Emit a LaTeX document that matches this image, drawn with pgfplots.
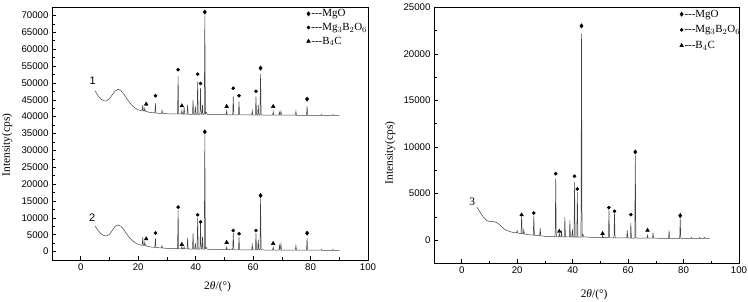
\documentclass[border=0pt]{standalone}
\usepackage{pgfplots}
\pgfplotsset{compat=1.18}
\usepackage{fontspec}
\setmainfont{Liberation Serif}
\setsansfont{Liberation Sans}
\pgfplotsset{
  xrd/.style={
    scale only axis,
    xmin=-10, xmax=100,
    xtick={0,20,...,100}, minor x tick num=1,
    tick align=inside, tick pos=left,
    major tick length=4bp, minor tick length=2.5bp,
    every tick/.style={black, line width=0.5pt},
    axis line style={line width=0.7pt},
    ticklabel style={font=\sffamily\fontsize{9.7}{11}\selectfont},
    /pgf/number format/assume math mode=true,
    /pgf/number format/set thousands separator={},
    scaled ticks=false,
    xlabel={2\textit{θ}/(°)},
    ylabel={Intensity(cps)},
    label style={font=\fontsize{11.5}{13}\selectfont},
    legend style={draw=none, fill=none, inner sep=0pt, row sep=3pt,
      font=\fontsize{11}{12}\selectfont,
      nodes={inner sep=1pt}},
    legend cell align=left,
    legend image code/.code={\draw plot coordinates {(0bp,0bp)};},
  },
  pat/.style={black!75, line width=0.5pt, mark=none},
  mgo/.style={only marks, mark=diamond*, mark size=2.2bp, black},
  mgb/.style={only marks, mark=*, mark size=1.6bp, black},
  bc/.style={only marks, mark=triangle*, mark size=2.2bp, black},
}
\begin{document}
\begin{tikzpicture}
\useasboundingbox (0,0) rectangle (748bp,302bp);
% ---------------- left panel ----------------
\begin{axis}[xrd,
  at={(52bp,42bp)}, anchor=south west,
  width=316bp, height=253bp,
  ymin=-2500, ymax=72500,
  ytick={0,5000,...,70000}, minor y tick num=1,
  xlabel style={at={(axis description cs:0.524,0)}, anchor=center, yshift=-27bp},
  ylabel style={at={(axis description cs:-0.142,0.455)}, anchor=center},
  legend style={at={(axis description cs:0.805,0.995)}, anchor=north west},
]
\addplot[pat, forget plot] coordinates {
(5,47700)(6,46200)(7,45200)(8,44700)(9,44700)(10,45300)(11,46500)(12,47600)(13,48100)(14,47700)(15,46700)(16,45400)(17,44200)(18,43200)(19,42500)(20,42000)(21,41800)
(21.4,41750)(21.6,43500)(21.8,41700)
(22.1,41650)(22.3,42500)(22.5,41600)
(24,41250)
(25.8,41100)(26.0,44000)(26.2,41050)
(27,41000)
(28.1,40950)(28.3,41900)(28.5,40950)
(30,40850)(33,40800)
(33.7,40800)(33.9,51900)(34.1,40800)
(35.0,40780)(35.2,41800)(35.4,40770)
(35.8,40760)(36.0,42800)(36.2,40750)
(37.0,40740)(37.2,43500)(37.4,40730)
(38,40700)
(38.9,40700)(39.1,45000)(39.3,40700)
(39.7,40690)(39.9,43000)(40.1,40680)
(40.5,40680)(40.7,50400)(40.9,40680)
(41.5,40670)(41.7,48500)(41.9,40670)
(42.2,40660)(42.4,43500)(42.6,40670)
(43.0,40700)(43.2,70000)(43.4,40900)
(43.7,41300)(44,40700)(46,40650)(48,40600)
(50.6,40560)(50.8,41700)(51.0,40550)
(52.9,40540)(53.1,46000)(53.3,40530)
(54.9,40520)(55.1,44500)(55.3,40510)
(57,40500)
(59.5,40490)(59.7,41800)(59.9,40485)
(60.8,40480)(61.0,46000)(61.2,40480)
(61.6,40480)(61.8,43500)(62.0,40480)
(62.4,40480)(62.6,52700)(62.8,40500)
(64,40460)
(66.8,40440)(67.0,41500)(67.2,40440)
(69.0,40430)(69.2,41300)(69.4,40500)(69.7,41600)(69.9,40430)
(72,40420)
(74.7,40410)(74.9,41600)(75.1,40410)
(77,40400)
(78.6,40400)(78.8,43200)(79.0,40400)
(81,40395)(83.6,40390)(83.8,40650)(84,40390)(86,40385)(87.6,40385)(87.8,40650)(88,40385)(90,40380)
};
\addplot[pat, forget plot] coordinates {
(5,7600)(6,6300)(7,5300)(8,4750)(9,4650)(10,5100)(11,6300)(12,7500)(13,7900)(14,7500)(15,6500)(16,5200)(17,4100)(18,3200)(19,2600)(20,2150)(21,1900)
(21.4,1850)(21.6,4250)(21.8,1830)
(22.1,1800)(22.3,2800)(22.5,1780)
(24,1400)
(25.8,1230)(26.0,4000)(26.2,1200)
(27,1150)
(28.1,1060)(28.3,1700)(28.5,1040)
(30,950)(33,870)
(33.7,850)(33.9,12400)(34.1,840)
(35.0,820)(35.2,1500)(35.4,810)
(35.8,800)(36.0,1400)(36.2,790)
(37.0,780)(37.2,4000)(37.4,770)
(38,760)
(38.9,740)(39.1,5450)(39.3,730)
(39.7,720)(39.9,2500)(40.1,710)
(40.5,710)(40.7,9900)(40.9,710)
(41.5,700)(41.7,8400)(41.9,700)
(42.2,690)(42.4,4400)(42.6,700)
(43.0,700)(43.2,34500)(43.4,900)
(43.7,1200)(44.0,700)(46,650)(48,600)
(50.6,560)(50.8,1300)(51.0,550)
(52.9,540)(53.1,5450)(53.3,530)
(54.9,520)(55.1,4250)(55.3,510)
(57,500)
(59.5,490)(59.7,2000)(59.9,485)
(60.8,480)(61.0,5450)(61.2,480)
(61.6,480)(61.8,3500)(62.0,480)
(62.4,480)(62.6,15800)(62.8,500)
(64,460)
(66.8,440)(67.0,1300)(67.2,440)
(69.0,430)(69.2,1800)(69.4,500)(69.7,2300)(69.9,430)
(72,420)
(74.7,410)(74.9,1800)(75.1,410)
(77,400)
(78.6,400)(78.8,4000)(79.0,400)
(81,395)(83.6,390)(83.8,650)(84,390)(86,385)(87.6,385)(87.8,650)(88,385)(90,380)
};
\addplot[mgo] coordinates {(43.2,71000)(62.6,54400)(78.8,45200)(43.2,35500)(62.6,16600)(78.8,5450)};
\addplot[mgb] coordinates {(26.0,46200)(33.9,53900)(40.7,52600)(41.7,49850)(53.1,48400)(55.1,46200)(61.0,47500)
(26.0,5500)(33.9,13200)(40.7,10900)(41.7,8800)(53.1,6250)(55.1,5250)(61.0,6250)};
\addplot[bc] coordinates {(22.8,43700)(35.2,43200)(50.8,43000)(67.0,43000)(22.8,3760)(35.2,2100)(50.8,2700)(67.0,2400)};
\legend{-{}-{}-MgO, -{}-{}-Mg$_3$B$_2$O$_6$, -{}-{}-B$_4$C}
\node[font=\sffamily\fontsize{11}{12}\selectfont] at (axis cs:4.2,50600) {1};
\node[font=\sffamily\fontsize{11}{12}\selectfont] at (axis cs:4.0,10000) {2};
\end{axis}
% ---------------- right panel ----------------
\begin{axis}[xrd,
  at={(434bp,38.7bp)}, anchor=south west,
  width=305bp, height=256bp,
  ymin=-2500, ymax=25000,
  ytick={0,5000,...,25000}, minor y tick num=1,
  xlabel style={at={(axis description cs:0.525,0)}, anchor=center, yshift=-31bp},
  ylabel style={at={(axis description cs:-0.144,0.431)}, anchor=center},
  legend style={at={(axis description cs:0.805,0.995)}, anchor=north west, row sep=5pt},
]
\addplot[pat, forget plot] coordinates {
(5.4,3550)(6,3300)(7,2800)(8,2400)(9,2100)(10,2000)(11,1980)(12,1950)(13,1800)(14,1550)(15,1250)(16,1050)(18,850)
(19.8,760)(20,1000)(20.2,750)
(21.4,700)(21.6,2650)(21.8,690)
(22.2,660)(22.4,1100)(22.6,650)
(24,570)
(25.8,530)(26.0,2650)(26.2,520)
(28.1,460)(28.3,1300)(28.5,455)
(30,400)(33,360)
(33.7,350)(33.9,6600)(34.1,350)
(35.0,345)(35.2,700)(35.4,345)
(35.8,340)(36.0,1000)(36.2,340)
(37.0,335)(37.2,2470)(37.4,335)
(38,330)
(38.8,330)(39.0,2100)(39.2,330)
(39.7,325)(39.9,1200)(40.1,325)
(40.5,325)(40.7,6240)(40.9,325)
(41.5,320)(41.7,5160)(41.9,320)
(43.0,320)(43.2,22200)(43.4,330)
(43.7,600)(44.0,350)(46,300)(48,280)
(50.6,260)(50.8,500)(51.0,255)
(52.9,250)(53.1,3260)(53.3,245)
(54.9,240)(55.1,2830)(55.3,235)
(57,230)
(59.5,220)(59.7,1040)(59.9,220)
(60.8,215)(61.0,1830)(61.2,215)
(62.4,210)(62.6,9100)(62.8,220)
(64,210)
(66.8,200)(67.0,500)(67.2,200)
(68.8,195)(69.0,790)(69.2,195)
(71,190)
(74.6,185)(74.8,1040)(75.0,185)
(77,180)
(78.6,180)(78.8,2300)(79.0,180)
(80,180)(82.6,175)(82.8,280)(83.0,175)(85.6,172)(85.8,280)(86,172)(87.3,170)(87.5,300)(87.7,170)(89.3,170)
};
\addplot[mgo] coordinates {(43.2,23000)(62.6,9460)(78.8,2620)};
\addplot[mgb] coordinates {(26.0,2900)(33.9,7130)(40.7,6850)(41.7,5480)(53.1,3480)(55.1,3080)(61.0,2720)};
\addplot[bc] coordinates {(21.6,2700)(35.2,930)(50.8,680)(67.0,1040)};
\legend{-{}-{}-MgO, -{}-{}-Mg$_3$B$_2$O$_6$, -{}-{}-B$_4$C}
\node[font=\fontsize{11.5}{12}\selectfont] at (axis cs:3.8,4100) {3};
\end{axis}
\end{tikzpicture}
\end{document}
